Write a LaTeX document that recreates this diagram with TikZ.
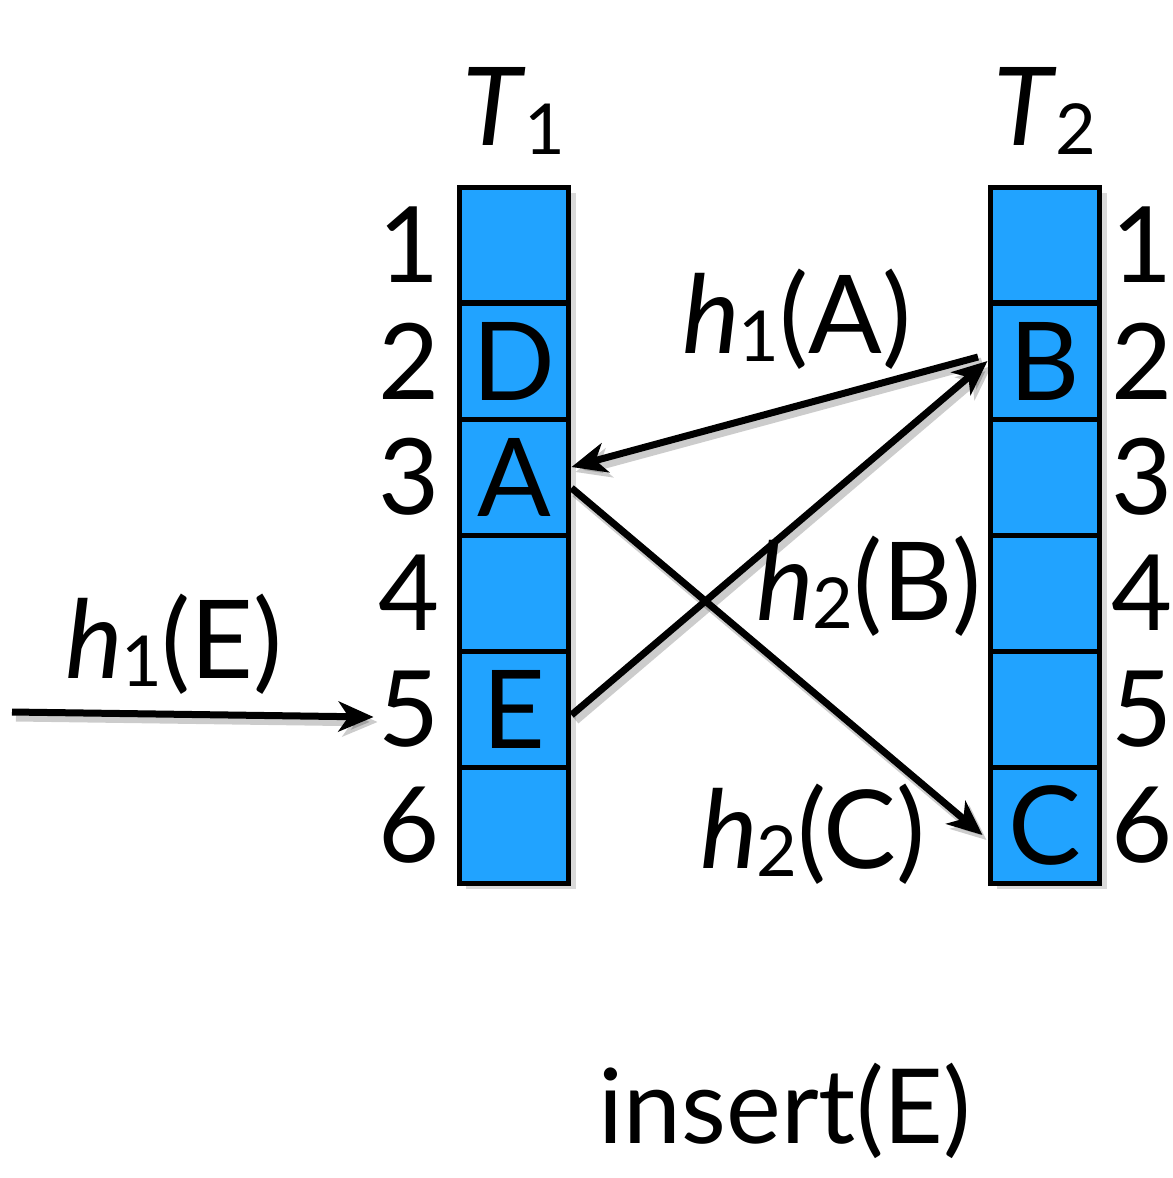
\documentclass[tikz,border=0pt]{standalone}
\usepackage{fontspec}
\setmainfont{Lato}
\usetikzlibrary{arrows.meta,positioning,shadows}
\definecolor{cellblue}{RGB}{33,163,255}
% italic letter with a lowered index
\newcommand\hsub[2]{\textit{#1}\kern-1pt\raisebox{-5pt}{\fontsize{40}{40}\selectfont #2}}

\begin{document}
\begin{tikzpicture}[x=0.02cm,y=-0.02cm,
  every node/.style={font=\fontsize{62}{64}\selectfont, inner sep=0pt},
  cell/.style={draw, line width=0.1cm, fill=cellblue,
    minimum width=2.2cm, minimum height=2.32cm,
    drop shadow={shadow xshift=0.14cm, shadow yshift=-0.12cm, opacity=0.3}},
  rownum/.style={anchor=center, font=\fontsize{60}{62}\selectfont},
  hash/.style={line width=0.14cm, -{Stealth[length=0.7cm,width=0.6cm,inset=0.2cm]},
    preaction={draw, black, opacity=0.2, line width=0.18cm,
      transform canvas={xshift=0.08cm, yshift=-0.1cm}}}]
\useasboundingbox (0,0) rectangle (1173,1178);

% the two tables
\foreach \r/\yy/\a/\b in {1/245//, 2/361/D/B, 3/477/A/, 4/593//, 5/709/E/, 6/825//C}{
  \node[cell] (t1-\r) at (514,\yy) {\a};
  \node[cell] (t2-\r) at (1045,\yy) {\b};
  \node[rownum] (l1-\r) at ([xshift=-0.94cm]t1-\r.west) {\r};
  \node[rownum] (l2-\r) at ([xshift=0.8cm]t2-\r.east) {\r};
}
\node[above=0.6cm of t1-1] (T1) {\hsub{T}{1}};
\node[above=0.6cm of t2-1] (T2) {\hsub{T}{2}};

% moves
\coordinate (src) at (12,712);
\draw[hash] (src) -- ([xshift=-0.1cm,yshift=-0.16cm]l1-5.west);
\draw[hash] ([xshift=-0.19cm,yshift=0.08cm]t2-2.west) -- ([yshift=0.2cm]t1-3.east);
\draw[hash] ([yshift=-0.22cm]t1-3.east) -- ([xshift=-0.1cm,yshift=-0.2cm]t2-6.west);
\draw[hash] ([yshift=-0.12cm]t1-5.east) -- (t2-2.west);

\node[anchor=base] (hE) at (174,678) {\hsub{h}{1}(E)};
\node[anchor=base] (hA) at (797,353) {\hsub{h}{1}(A)};
\node[anchor=base] (hB) at (869,620) {\hsub{h}{2}(B)};
\node[anchor=base] (hC) at (813,868) {\hsub{h}{2}(C)};

\node[anchor=base, font=\fontsize{59}{61}\selectfont] (ins) at (785,1143) {insert(E)};
\end{tikzpicture}
\end{document}
